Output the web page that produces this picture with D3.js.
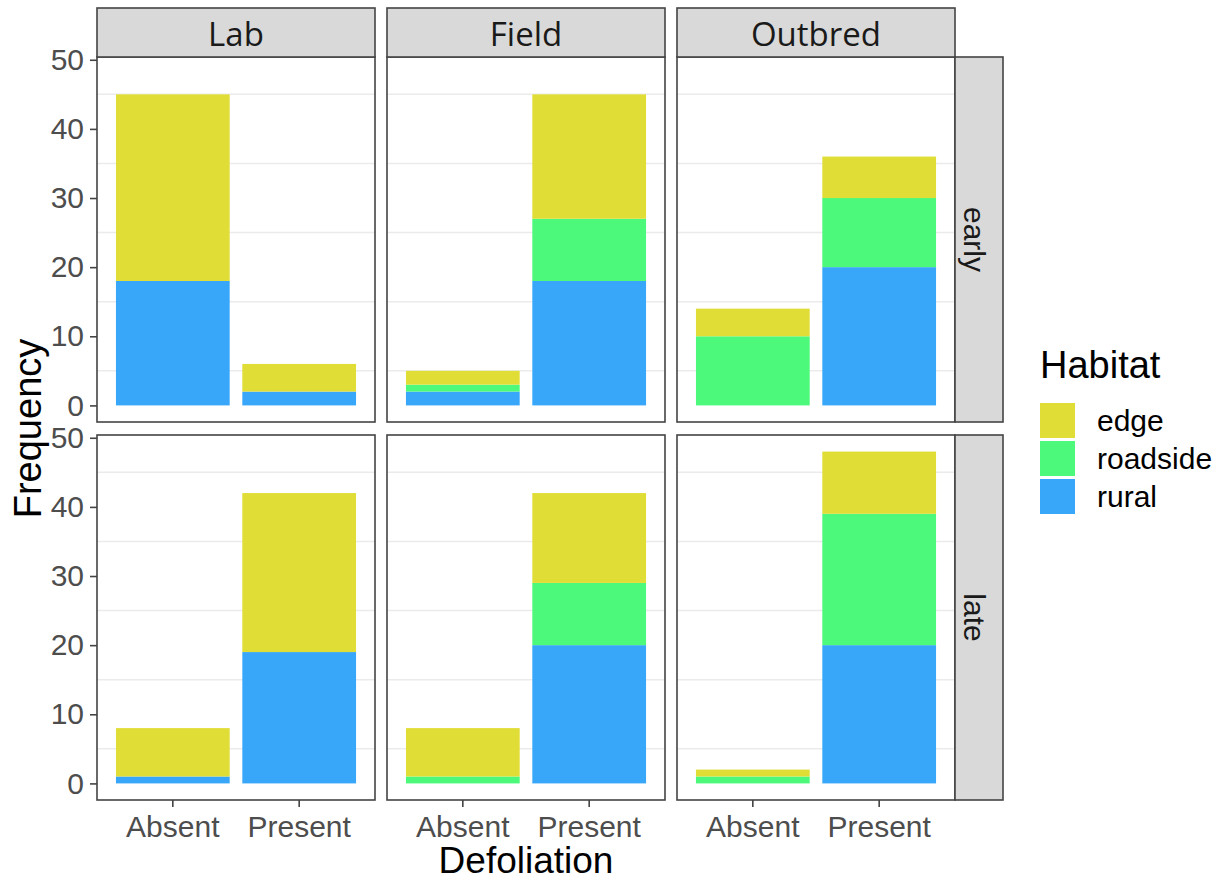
<!DOCTYPE html>
<html>
<head>
<meta charset="utf-8">
<script src="https://cdn.jsdelivr.net/npm/d3@7"></script>
<style>
  body { margin: 0; background: #fff; }
  svg { display: block; }
  text { font-family: "Liberation Sans", Arial, sans-serif; }
</style>
</head>
<body>
<svg id="chart" width="1225" height="882"></svg>
<script>
'use strict';

// facet levels
var groups = ["Lab", "Field", "Outbred"];
var timings = ["early", "late"];
var defoliation = ["Absent", "Present"];
var habitats = ["edge", "roadside", "rural"];
var habitatColors = ["#E0DD37", "#4DF97A", "#38A6F9"];

// counts, in order Lab-Absent, Lab-Present, Field-Absent, Field-Present, Outbred-Absent, Outbred-Present
var earlyEdge     = [27, 4, 2, 18, 4, 6];
var earlyRoadside = [0, 0, 1, 9, 10, 10];
var earlyRural    = [18, 2, 2, 18, 0, 20];
var lateEdge      = [7, 23, 7, 13, 1, 9];
var lateRoadside  = [0, 0, 1, 9, 1, 19];
var lateRural     = [1, 19, 0, 20, 0, 20];

var countsByTiming = {
    early: { edge: earlyEdge, roadside: earlyRoadside, rural: earlyRural },
    late:  { edge: lateEdge,  roadside: lateRoadside,  rural: lateRural }
};

// build rows for d3.stack
var rows = [];
timings.forEach(function(t) {
    groups.forEach(function(g, gi) {
        defoliation.forEach(function(d, di) {
            var idx = gi * 2 + di;
            rows.push({
                timing: t, group: g, defol: d,
                edge: countsByTiming[t].edge[idx],
                roadside: countsByTiming[t].roadside[idx],
                rural: countsByTiming[t].rural[idx]
            });
        });
    });
});

var stackKeys = ["rural", "roadside", "edge"];
var color = d3.scaleOrdinal().domain(habitats).range(habitatColors);

// layout
var panelLeft = 97, panelTop = 57;
var panelW = 278, panelH = 365;
var gapX = 12, gapY = 13;
var stripH = 49, stripW = 48;

var svg = d3.select("#chart");

var maxTotal = d3.max(rows, function(r) { return r.edge + r.roadside + r.rural; });
var y = d3.scaleLinear()
    .domain([-0.05 * maxTotal, maxTotal * 1.05])
    .range([panelH, 0]);
var x = d3.scaleBand()
    .domain(defoliation)
    .range([0, panelW])
    .paddingInner(0.1)
    .paddingOuter(0.15);

var majorTicks = y.ticks(5);
var minorTicks = y.ticks(10).filter(function(v) { return majorTicks.indexOf(v) < 0; });

timings.forEach(function(t, ti) {
    groups.forEach(function(g, gi) {
        var px = panelLeft + gi * (panelW + gapX);
        var py = panelTop + ti * (panelH + gapY);
        var panel = svg.append("g")
            .attr("class", "panel")
            .attr("transform", "translate(" + px + "," + py + ")");

        panel.append("rect")
            .attr("width", panelW).attr("height", panelH)
            .attr("fill", "#fff");

        panel.selectAll(".minor")
            .data(minorTicks)
            .enter().append("line")
            .attr("class", "minor")
            .attr("x1", 0).attr("x2", panelW)
            .attr("y1", function(d) { return y(d); })
            .attr("y2", function(d) { return y(d); })
            .attr("stroke", "#EBEBEB")
            .attr("stroke-width", 1.5);

        var panelRows = rows.filter(function(r) { return r.timing === t && r.group === g; });
        var series = d3.stack().keys(stackKeys)(panelRows);

        panel.selectAll(".layer")
            .data(series)
            .enter().append("g")
            .attr("class", "layer")
            .attr("fill", function(s) { return color(s.key); })
            .selectAll("rect")
            .data(function(s) { return s; })
            .enter().append("rect")
            .filter(function(d) { return d[1] > d[0]; })
            .attr("x", function(d) { return x(d.data.defol); })
            .attr("width", x.bandwidth())
            .attr("y", function(d) { return y(d[1]); })
            .attr("height", function(d) { return y(d[0]) - y(d[1]); });

        panel.append("rect")
            .attr("width", panelW).attr("height", panelH)
            .attr("fill", "none")
            .attr("stroke", "#444")
            .attr("stroke-width", 1.6);

        // y axis on left column
        if (gi === 0) {
            var ya = panel.append("g")
                .call(d3.axisLeft(y).tickValues(majorTicks).tickSize(7).tickPadding(6));
            ya.select(".domain").remove();
            ya.selectAll(".tick line").attr("stroke", "#444").attr("stroke-width", 1.6);
            ya.selectAll(".tick text")
                .attr("fill", "#4D4D4D")
                .style("font-size", "30px")
                .style("font-family", "'Liberation Sans', Arial, sans-serif");
        }

        // x axis on bottom row
        if (ti === timings.length - 1) {
            var xa = panel.append("g")
                .attr("transform", "translate(0," + panelH + ")")
                .call(d3.axisBottom(x).tickSize(7).tickPadding(9));
            xa.select(".domain").remove();
            xa.selectAll(".tick line").attr("stroke", "#444").attr("stroke-width", 1.6);
            xa.selectAll(".tick text")
                .attr("fill", "#4D4D4D")
                .style("font-size", "30px")
                .style("font-family", "'Liberation Sans', Arial, sans-serif");
        }

        // top strips
        if (ti === 0) {
            var ts = svg.append("g")
                .attr("transform", "translate(" + px + "," + (panelTop - stripH) + ")");
            ts.append("rect")
                .attr("width", panelW).attr("height", stripH)
                .attr("fill", "#D9D9D9")
                .attr("stroke", "#444")
                .attr("stroke-width", 1.6);
            ts.append("text")
                .attr("x", panelW / 2).attr("y", 38)
                .attr("text-anchor", "middle")
                .attr("fill", "#1A1A1A")
                .style("font-family", "'Open Sans', 'Noto Sans', sans-serif")
                .style("font-size", "33px")
                .text(g);
        }

        // right strips
        if (gi === groups.length - 1) {
            var rs = svg.append("g")
                .attr("transform", "translate(" + (px + panelW) + "," + py + ")");
            rs.append("rect")
                .attr("width", stripW).attr("height", panelH)
                .attr("fill", "#D9D9D9")
                .attr("stroke", "#444")
                .attr("stroke-width", 1.6);
            rs.append("text")
                .attr("transform", "translate(" + 9 + "," + (panelH / 2) + ") rotate(90)")
                .attr("text-anchor", "middle")
                .attr("fill", "#1A1A1A")
                .style("font-size", "30px")
                .text(t);
        }
    });
});

// axis titles
var plotRight = panelLeft + groups.length * panelW + (groups.length - 1) * gapX;
var plotBottom = panelTop + timings.length * panelH + gapY;

svg.append("text")
    .attr("x", (panelLeft + plotRight) / 2)
    .attr("y", 873)
    .attr("text-anchor", "middle")
    .style("font-size", "37px")
    .text("Defoliation");

svg.append("text")
    .attr("transform", "translate(41," + ((panelTop + plotBottom) / 2) + ") rotate(-90)")
    .attr("text-anchor", "middle")
    .style("font-size", "38px")
    .text("Frequency");

// legend
var legend = svg.append("g").attr("transform", "translate(1040,378)");
legend.append("text")
    .attr("x", 0).attr("y", 0)
    .style("font-size", "38px")
    .text("Habitat");

var keyStep = 38, keySize = 35;
var items = legend.selectAll(".key")
    .data(habitats)
    .enter().append("g")
    .attr("class", "key")
    .attr("transform", function(d, i) { return "translate(0," + (25 + i * keyStep) + ")"; });
items.append("rect")
    .attr("width", keySize).attr("height", keySize)
    .attr("fill", function(d) { return color(d); });
items.append("text")
    .attr("x", 57).attr("y", keySize / 2 + 10)
    .style("font-size", "30px")
    .text(function(d) { return d; });
</script>
</body>
</html>
